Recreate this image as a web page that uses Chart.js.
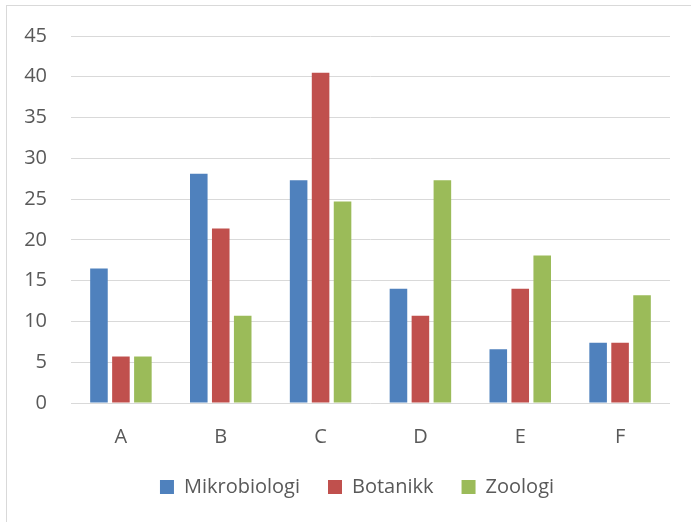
<!DOCTYPE html>
<html>
<head>
<meta charset="utf-8">
<script src="https://cdn.jsdelivr.net/npm/chart.js@4/dist/chart.umd.min.js"></script>
<style>
    html, body { margin: 0; padding: 0; background: #fff; overflow: hidden; }
    #frame {
        position: absolute; left: 6px; top: 5px; width: 800px; height: 700px;
        border: 1px solid #d9d9d9; box-sizing: border-box;
    }
    #chart { position: absolute; left: 0; top: 0; }
</style>
</head>
<body>
<div id="frame"></div>
<canvas id="chart" width="691" height="522"></canvas>
<script>
// Data
const categories = ['A', 'B', 'C', 'D', 'E', 'F'];
const seriesNames = ['Mikrobiologi', 'Botanikk', 'Zoologi'];
const mikrobiologi = [16.5, 28.1, 27.3, 14.0, 6.6, 7.4];
const botanikk = [5.7, 21.4, 40.5, 10.7, 14.0, 7.4];
const zoologi = [5.7, 10.7, 24.7, 27.3, 18.1, 13.2];
const yTicks = [0, 5, 10, 15, 20, 25, 30, 35, 40, 45];

const colors = ['#4f81bd', '#c0504d', '#9bbb59'];
const textColor = '#595959';
const gridColor = '#d9d9d9';
const fontFamily = '"Open Sans", "Liberation Sans", sans-serif';

const seriesValues = [mikrobiologi, botanikk, zoologi];

const datasets = seriesNames.map((name, i) => ({
    label: name,
    data: seriesValues[i],
    backgroundColor: colors[i],
    borderWidth: 0,
    categoryPercentage: 0.66,
    barPercentage: 0.8
}));

// the legend sits centred under the whole frame, not the canvas, so nudge it
const legendShift = {
    id: 'legendShift',
    afterLayout(chart) {
        chart.legend.left += 13;
        chart.legend.right += 13;
    }
};

new Chart(document.getElementById('chart').getContext('2d'), {
    type: 'bar',
    data: { labels: categories, datasets: datasets },
    plugins: [legendShift],
    options: {
        responsive: false,
        animation: false,
        layout: { padding: { left: 18, right: 21, top: 35, bottom: 15 } },
        plugins: {
            tooltip: { enabled: false },
            legend: {
                position: 'bottom',
                labels: {
                    boxWidth: 14,
                    boxHeight: 14,
                    padding: 28,
                    color: textColor,
                    font: { family: fontFamily, size: 20 }
                }
            }
        },
        scales: {
            x: {
                grid: { display: false },
                border: { display: false },
                ticks: {
                    color: textColor,
                    padding: 14,
                    font: { family: fontFamily, size: 20 }
                },
                afterFit: scale => { scale.height = 46; }
            },
            y: {
                min: yTicks[0],
                max: yTicks[yTicks.length - 1],
                grid: { color: gridColor, lineWidth: 1, drawTicks: false },
                border: { display: false },
                ticks: {
                    stepSize: yTicks[1] - yTicks[0],
                    color: textColor,
                    padding: 24,
                    font: { family: fontFamily, size: 20 }
                },
                afterFit: scale => { scale.width = 53; }
            }
        }
    }
});
</script>
</body>
</html>
